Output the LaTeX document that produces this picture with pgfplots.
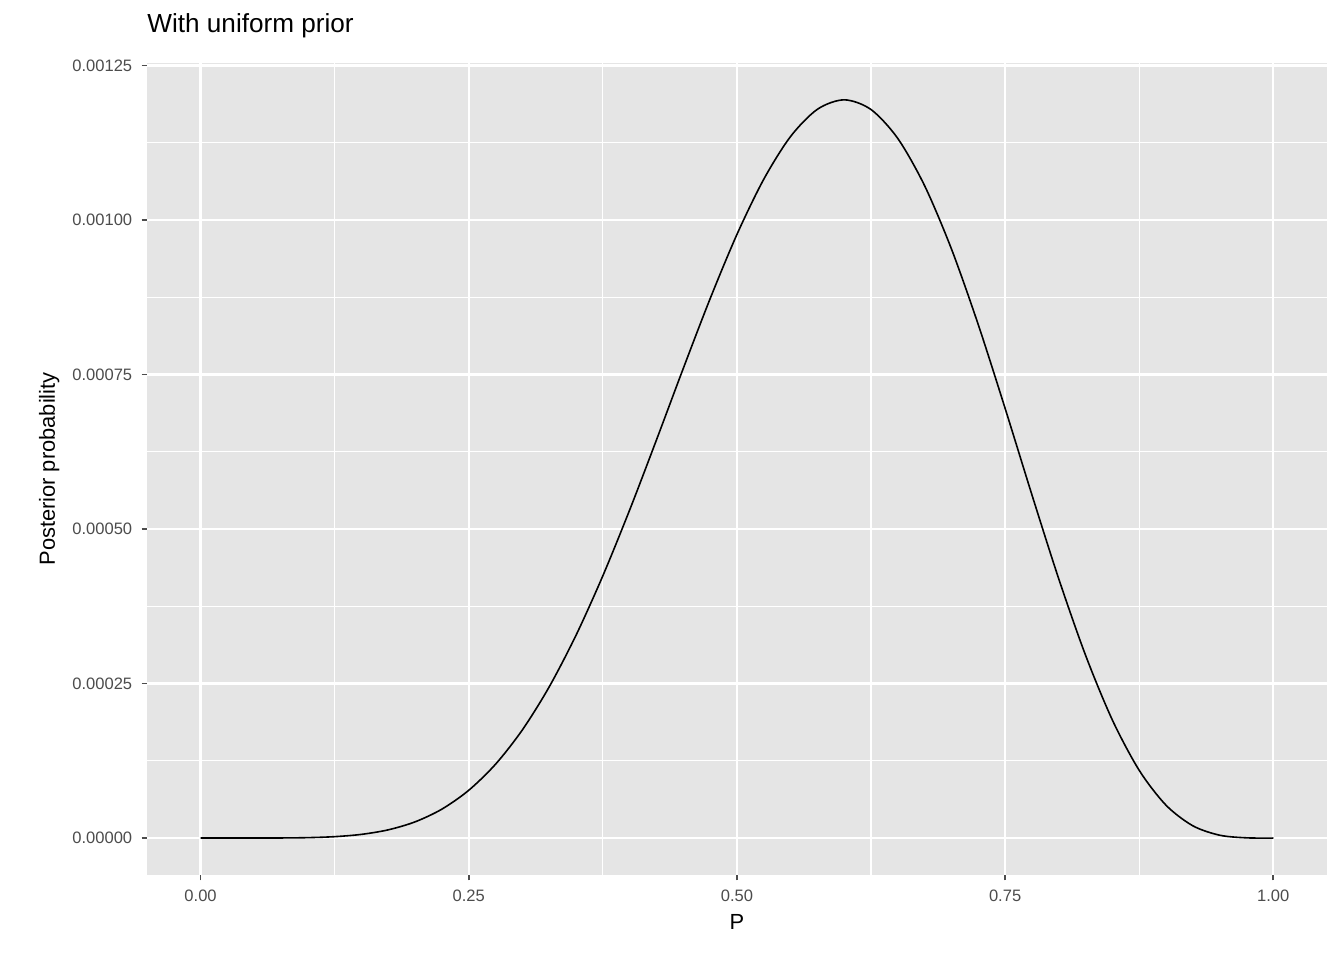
\documentclass[border=0pt]{standalone}
\usepackage{pgfplots}
\pgfplotsset{compat=1.18}
\usepackage{fontspec}
\setmainfont{Liberation Sans}
\definecolor{panel}{gray}{0.898}
\begin{document}
\begin{tikzpicture}
\useasboundingbox (-55.1pt,-31.9pt) rectangle (448.9pt,328.1pt);
\begin{axis}[
  scale only axis, width=442.5pt, height=304.5pt,
  xmin=-0.05, xmax=1.05, ymin=-0.0000597, ymax=0.0012541,
  axis background/.style={fill=panel},
  axis line style={draw=none},
  xtick={0,0.25,0.5,0.75,1}, minor xtick={0.125,0.375,0.625,0.875},
  ytick={0,0.00025,0.0005,0.00075,0.001,0.00125},
  minor ytick={0.000125,0.000375,0.000625,0.000875,0.001125},
  grid=both,
  major grid style={white, line width=0.8pt},
  minor grid style={white, line width=0.4pt},
  tick align=outside, tick pos=left,
  major tick length=2pt, minor tick length=0pt,
  tick style={gray!60!black, line width=0.6pt},
  scaled y ticks=false,
  xticklabel style={/pgf/number format/.cd,fixed,fixed zerofill,precision=2},
  yticklabel style={/pgf/number format/.cd,fixed,fixed zerofill,precision=5},
  /pgf/number format/assume math mode=true,
  ticklabel style={font=\fontsize{6.2}{7}\selectfont, text=black!70},
  xlabel={P}, ylabel={Posterior probability},
  label style={font=\fontsize{8.2}{9}\selectfont},
  xlabel style={yshift=2pt},
  ylabel style={yshift=-2pt},
  title={With uniform prior},
  title style={at={(0,1)}, anchor=south west, inner xsep=0pt, font=\fontsize{9.8}{11}\selectfont},
]
\addplot[black, line width=0.6pt, smooth] coordinates {
(0,0) (0.025,2.2e-10) (0.05,1.27e-8) (0.075,1.30e-7) (0.1,6.56e-7)
(0.125,2.236e-6) (0.15,5.946e-6) (0.175,1.330e-5) (0.2,2.621e-5)
(0.225,4.680e-5) (0.25,7.725e-5) (0.275,1.195e-4) (0.3,1.750e-4)
(0.325,2.446e-4) (0.35,3.281e-4) (0.375,4.243e-4) (0.4,5.308e-4)
(0.425,6.442e-4) (0.45,7.599e-4) (0.475,8.726e-4) (0.5,9.766e-4)
(0.525,1.0659e-3) (0.55,1.1351e-3) (0.575,1.1791e-3) (0.6,1.1944e-3)
(0.625,1.1787e-3) (0.65,1.1318e-3) (0.675,1.0553e-3) (0.7,9.530e-4)
(0.725,8.305e-4) (0.75,6.952e-4) (0.775,5.553e-4) (0.8,4.194e-4)
(0.825,2.957e-4) (0.85,1.909e-4) (0.875,1.0957e-4) (0.9,5.314e-5)
(0.925,1.982e-5) (0.95,4.594e-6) (0.975,3.356e-7) (1,0)
};
\end{axis}
\end{tikzpicture}
\end{document}
